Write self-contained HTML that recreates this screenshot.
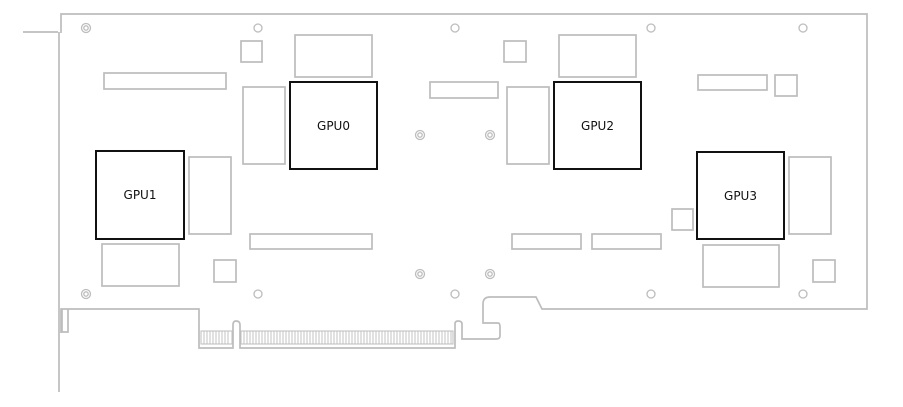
<!DOCTYPE html>
<html><head><style>html,body{margin:0;padding:0;background:#fff}svg{display:block}text{font-family:"DejaVu Sans","Liberation Sans",sans-serif;font-size:12px;fill:#111}</style></head>
<body>
<svg width="903" height="407" viewBox="0 0 903 407" xmlns="http://www.w3.org/2000/svg">
<g fill="none" stroke="#bdbdbd" stroke-width="1.7">
<path d="M23,32 H58 M59,32 V392 M61,33 V14 H867 V309 H542 L536,297 H490 Q483,297 483,304 V323 H498 Q500,323 500,327 V336 Q500,339 496,339 H462 V324 Q462,321 458,321 Q455,321 455,324 V348 H240 V325 Q240,321 236,321 Q233,321 233,325 V348 H199 V309 H61 V333"/>
<path d="M62,309 V332 H68 V309"/>
<rect x="201" y="331" width="31" height="13" stroke-width="1"/>
<rect x="241" y="331" width="212" height="13" stroke-width="1"/>
<rect x="241" y="41" width="21" height="21"/>
<rect x="295" y="35" width="77" height="42"/>
<rect x="104" y="73" width="122" height="16"/>
<rect x="243" y="87" width="42" height="77"/>
<rect x="430" y="82" width="68" height="16"/>
<rect x="189" y="157" width="42" height="77"/>
<rect x="250" y="234" width="122" height="15"/>
<rect x="102" y="244" width="77" height="42"/>
<rect x="214" y="260" width="22" height="22"/>
<rect x="504" y="41" width="22" height="21"/>
<rect x="559" y="35" width="77" height="42"/>
<rect x="507" y="87" width="42" height="77"/>
<rect x="698" y="75" width="69" height="15"/>
<rect x="775" y="75" width="22" height="21"/>
<rect x="789" y="157" width="42" height="77"/>
<rect x="672" y="209" width="21" height="21"/>
<rect x="512" y="234" width="69" height="15"/>
<rect x="592" y="234" width="69" height="15"/>
<rect x="703" y="245" width="76" height="42"/>
<rect x="813" y="260" width="22" height="22"/>
<g stroke-width="1.3">
<circle cx="258" cy="28" r="4"/><circle cx="258" cy="294" r="4"/>
<circle cx="455" cy="28" r="4"/><circle cx="455" cy="294" r="4"/>
<circle cx="651" cy="28" r="4"/><circle cx="651" cy="294" r="4"/>
<circle cx="803" cy="28" r="4"/><circle cx="803" cy="294" r="4"/>
<circle cx="86" cy="28" r="4.5"/><circle cx="86" cy="28" r="2.2"/>
<circle cx="86" cy="294" r="4.5"/><circle cx="86" cy="294" r="2.2"/>
<circle cx="420" cy="135" r="4.5"/><circle cx="420" cy="135" r="2.2"/>
<circle cx="420" cy="274" r="4.5"/><circle cx="420" cy="274" r="2.2"/>
<circle cx="490" cy="135" r="4.5"/><circle cx="490" cy="135" r="2.2"/>
<circle cx="490" cy="274" r="4.5"/><circle cx="490" cy="274" r="2.2"/>
</g>
</g>
<path stroke="#bdbdbd" stroke-width="0.9" d="M204,331V344M207,331V344M210,331V344M213,331V344M216,331V344M219,331V344M222,331V344M225,331V344M228,331V344M244,331V344M247,331V344M250,331V344M253,331V344M256,331V344M259,331V344M262,331V344M265,331V344M268,331V344M271,331V344M274,331V344M277,331V344M280,331V344M283,331V344M286,331V344M289,331V344M292,331V344M295,331V344M298,331V344M301,331V344M304,331V344M307,331V344M310,331V344M313,331V344M316,331V344M319,331V344M322,331V344M325,331V344M328,331V344M331,331V344M334,331V344M337,331V344M340,331V344M343,331V344M346,331V344M349,331V344M352,331V344M355,331V344M358,331V344M361,331V344M364,331V344M367,331V344M370,331V344M373,331V344M376,331V344M379,331V344M382,331V344M385,331V344M388,331V344M391,331V344M394,331V344M397,331V344M400,331V344M403,331V344M406,331V344M409,331V344M412,331V344M415,331V344M418,331V344M421,331V344M424,331V344M427,331V344M430,331V344M433,331V344M436,331V344M439,331V344M442,331V344M445,331V344M448,331V344M451,331V344"/>
<g fill="none" stroke="#111" stroke-width="2">
<rect x="290" y="82" width="87" height="87"/>
<rect x="96" y="151" width="88" height="88"/>
<rect x="554" y="82" width="87" height="87"/>
<rect x="697" y="152" width="87" height="87"/>
</g>
<text x="333.5" y="130" text-anchor="middle">GPU0</text>
<text x="140" y="199" text-anchor="middle">GPU1</text>
<text x="597.5" y="130" text-anchor="middle">GPU2</text>
<text x="740.5" y="200" text-anchor="middle">GPU3</text>
</svg>
</body></html>
